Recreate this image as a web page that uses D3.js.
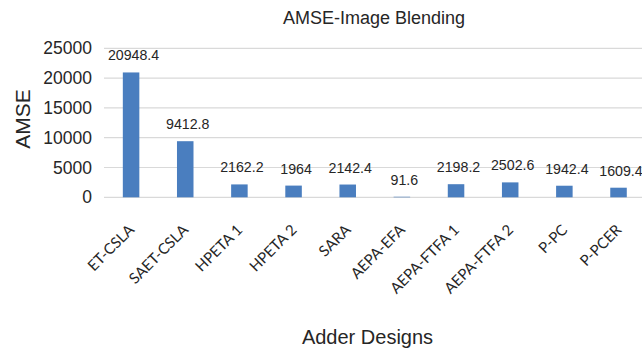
<!DOCTYPE html>
<html>
<head>
<meta charset="utf-8">
<script src="https://cdn.jsdelivr.net/npm/d3@7"></script>
<style>
  html, body { margin: 0; padding: 0; background: #fff; }
  svg { display: block; }
</style>
</head>
<body>
<svg id="chart" width="642" height="350"></svg>
<script>
// AMSE per adder design for the image blending application
const categories = ["ET-CSLA", "SAET-CSLA", "HPETA 1", "HPETA 2", "SARA", "AEPA-EFA",
                    "AEPA-FTFA 1", "AEPA-FTFA 2", "P-PC", "P-PCER"];
const amse = [20948.4, 9412.8, 2162.2, 1964, 2142.4, 91.6, 2198.2, 2502.6, 1942.4, 1609.4];
const valueLabels = ["20948.4", "9412.8", "2162.2", "1964", "2142.4", "91.6",
                     "2198.2", "2502.6", "1942.4", "1609.4"];
const yTicks = [0, 5000, 10000, 15000, 20000, 25000];
const chartTitle = "AMSE-Image Blending";
const xTitle = "Adder Designs";
const yTitle = "AMSE";

const svg = d3.select("#chart");
const W = 642;
const plot = { left: 104, right: 645.6, top: 48.3, bottom: 197.3 };
const sans = "'Liberation Sans', Arial, Helvetica, sans-serif";
const barColor = "#4a7ebf";
const gridColor = "#d9d9d9";
const textColor = "#262626";

const pad = 0.695;
const x = d3.scaleBand()
  .domain(categories)
  .range([plot.left, plot.right])
  .paddingInner(pad)
  .paddingOuter(pad / 2);

const y = d3.scaleLinear()
  .domain([0, 25000])
  .range([plot.bottom, plot.top]);

// horizontal gridlines
svg.append("g")
  .selectAll("line")
  .data(yTicks)
  .join("line")
  .attr("x1", plot.left)
  .attr("x2", W)
  .attr("y1", d => y(d))
  .attr("y2", d => y(d))
  .attr("stroke", gridColor)
  .attr("stroke-width", 1.2);

// y axis labels
const yAxis = svg.append("g")
  .attr("transform", `translate(${plot.left},0)`)
  .call(d3.axisLeft(y).tickValues(yTicks).tickFormat(d3.format("d")).tickSize(0).tickPadding(12));
yAxis.select(".domain").remove();
yAxis.selectAll("text")
  .attr("font-family", sans)
  .attr("font-size", 17.5)
  .attr("fill", textColor);

// bars
svg.append("g")
  .selectAll("rect")
  .data(amse)
  .join("rect")
  .attr("x", (d, i) => x(categories[i]))
  .attr("width", x.bandwidth())
  .attr("y", d => y(Math.max(d, 0)))
  .attr("height", d => Math.abs(y(0) - y(d)))
  .attr("fill", barColor);

// value labels above bars
svg.append("g")
  .selectAll("text")
  .data(amse)
  .join("text")
  .attr("x", (d, i) => x(categories[i]) + x.bandwidth() / 2 + 2.5)
  .attr("y", d => y(d) - 12)
  .attr("text-anchor", "middle")
  .attr("font-family", sans)
  .attr("font-size", 14.2)
  .attr("fill", textColor)
  .text((d, i) => valueLabels[i]);

// category axis with slanted labels
const xAxis = svg.append("g")
  .attr("transform", `translate(0,${plot.bottom})`)
  .call(d3.axisBottom(x).tickSize(0).tickPadding(0));
xAxis.select(".domain").remove();
xAxis.selectAll("text")
  .attr("font-family", "Lato, 'Open Sans', sans-serif")
  .attr("font-size", 15)
  .attr("fill", "#262626")
  .attr("text-anchor", "end")
  .attr("dy", null)
  .attr("y", null)
  .attr("transform", "translate(4,33.5) rotate(-45)");

// titles
svg.append("text")
  .attr("x", 374)
  .attr("y", 24)
  .attr("text-anchor", "middle")
  .attr("font-family", sans)
  .attr("font-size", 18)
  .attr("fill", textColor)
  .text(chartTitle);

svg.append("text")
  .attr("x", 367.5)
  .attr("y", 344)
  .attr("text-anchor", "middle")
  .attr("font-family", sans)
  .attr("font-size", 20)
  .attr("fill", textColor)
  .text(xTitle);

svg.append("text")
  .attr("transform", "translate(30,119) rotate(-90)")
  .attr("text-anchor", "middle")
  .attr("font-family", sans)
  .attr("font-size", 21)
  .attr("fill", textColor)
  .text(yTitle);
</script>
</body>
</html>
